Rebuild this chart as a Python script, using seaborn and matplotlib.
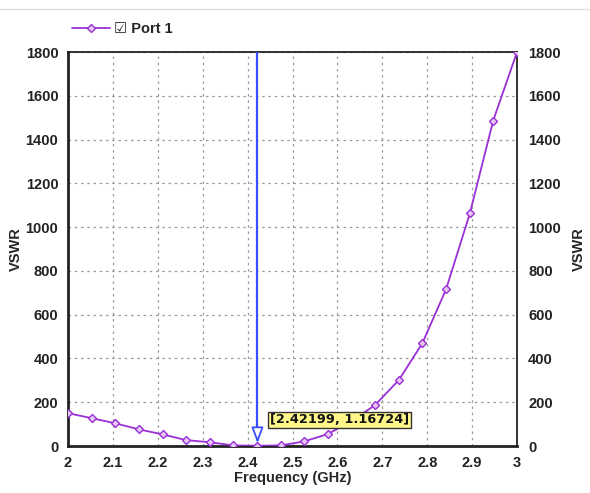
import numpy as np
import pandas as pd
import matplotlib
matplotlib.use("Agg")
import matplotlib.pyplot as plt
import seaborn as sns

freq = [2.000, 2.053, 2.105, 2.158, 2.211, 2.263, 2.316, 2.368, 2.421, 2.474,
        2.526, 2.579, 2.632, 2.684, 2.737, 2.789, 2.842, 2.895, 2.947, 3.000]
vswr = [150, 127, 104, 76, 53, 27, 17, 3, 1.17, 3,
        21, 55, 115, 187, 302, 469, 716, 1063, 1487, 1800]
marker_x = 2.42199
marker_y = 1.16724
xticks = [2, 2.1, 2.2, 2.3, 2.4, 2.5, 2.6, 2.7, 2.8, 2.9, 3]
xticklabels = ["2", "2.1", "2.2", "2.3", "2.4", "2.5", "2.6", "2.7", "2.8", "2.9", "3"]
yticks = [0, 200, 400, 600, 800, 1000, 1200, 1400, 1600, 1800]

sns.set_theme(style="white")
plt.rcParams['font.family'] = ['Liberation Sans', 'DejaVu Sans']

df = pd.DataFrame({"Frequency (GHz)": freq, "VSWR": vswr})
purple = "#9a2fd6"
fs = 10.5

fig = plt.figure(figsize=(5.9, 4.93), dpi=100)
ax = fig.add_axes([0.1153, 0.0953, 0.761, 0.7992])

sns.lineplot(data=df, x="Frequency (GHz)", y="VSWR", ax=ax, color=purple,
             marker="D", markersize=4.5, markerfacecolor="#e6c8f5",
             markeredgecolor=purple, markeredgewidth=1.0, linewidth=1.3,
             label="Port 1", zorder=5)

ax.set_xlim(2, 3)
ax.set_ylim(0, 1800)
ax.set_xticks(xticks)
ax.set_xticklabels(xticklabels)
ax.set_yticks(yticks)
ax.grid(True, color="#9a9a9a", linestyle=(0, (2, 3)), linewidth=0.9)
ax.tick_params(length=0, labelsize=fs, pad=7)
for lab in ax.get_xticklabels() + ax.get_yticklabels():
    lab.set_fontweight("bold")
    lab.set_color("#222222")
ax.set_xlabel("Frequency (GHz)", fontsize=fs, fontweight="bold", labelpad=1)
ax.set_ylabel("VSWR", fontsize=fs, fontweight="bold", labelpad=2)

for side in ["left", "bottom"]:
    ax.spines[side].set_linewidth(2.0)
    ax.spines[side].set_color("#222222")
for side in ["top", "right"]:
    ax.spines[side].set_linewidth(1.3)
    ax.spines[side].set_color("#222222")

ax2 = ax.twinx()
ax2.set_ylim(ax.get_ylim())
ax2.set_yticks(yticks)
ax2.tick_params(length=0, labelsize=fs, pad=8)
for lab in ax2.get_yticklabels():
    lab.set_fontweight("bold")
    lab.set_color("#222222")
ax2.set_ylabel("VSWR", fontsize=fs, fontweight="bold", labelpad=8)
for s in ax2.spines.values():
    s.set_visible(False)

# marker line
blue = "#3a4dff"
ax.plot([marker_x, marker_x], [1800, 60], color=blue, linewidth=1.6, zorder=6)
ax.annotate("", xy=(marker_x, 0), xytext=(marker_x, 75),
            arrowprops=dict(arrowstyle="-|>,head_length=0.8,head_width=0.3",
                            color=blue, fc="white", lw=1.3), zorder=7)
ax.text(2.45, 119, f"[{marker_x:.5f}, {marker_y:.5f}]", fontsize=9.3,
        family=["DejaVu Sans"], fontweight="bold", color="#111111",
        va="center", ha="left", zorder=8,
        bbox=dict(boxstyle="square,pad=0.15", fc="#fff78a", ec="#333333", lw=1.0))

# legend above axes
leg = ax.legend(loc="lower left", bbox_to_anchor=(-0.005, 1.025), frameon=False,
                handlelength=2.6, handletextpad=0.3, borderaxespad=0.0,
                prop={"weight": "bold", "size": fs})
leg.get_texts()[0].set_text("☑ Port 1")
leg.get_texts()[0].set_fontfamily(["Liberation Sans", "DejaVu Sans"])

# faint frame of the image
fig.add_artist(plt.Line2D([0.0, 1.0], [0.982, 0.982], color="#dddddd", lw=1.0))

fig.savefig("out.png", dpi=100)
